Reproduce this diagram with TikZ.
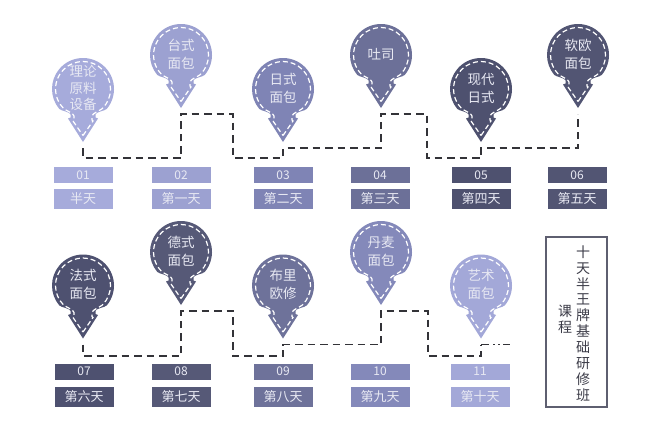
\documentclass[tikz,border=0pt]{standalone}
\usepackage{fontspec}
\newfontfamily\cjk{Noto Sans CJK SC}
\definecolor{dayA}{HTML}{A6ABDB}
\definecolor{dayB}{HTML}{9CA1D1}
\definecolor{dayC}{HTML}{7F84B5}
\definecolor{dayD}{HTML}{6C7098}
\definecolor{dayE}{HTML}{4E516F}
\definecolor{dayF}{HTML}{525573}
\definecolor{dayG}{HTML}{4E5170}
\definecolor{dayH}{HTML}{565977}
\definecolor{dayI}{HTML}{6E729A}
\definecolor{dayJ}{HTML}{8489BA}
\definecolor{dayK}{HTML}{A3A8D8}
\definecolor{pinwhite}{HTML}{E8E9F3}
\definecolor{trailgray}{HTML}{333338}
\definecolor{panelgray}{HTML}{5E5F70}
\definecolor{panelink}{HTML}{3C3C48}

\begin{document}
\begin{tikzpicture}[x=1pt,y=-1pt,
    numbox/.style={minimum width=59pt,minimum height=16pt,inner sep=0pt,text=pinwhite,font=\cjk\fontsize{12}{12}\selectfont},
    daybox/.style={minimum width=59pt,minimum height=20pt,inner sep=0pt,text=pinwhite,font=\cjk\fontsize{13}{13}\selectfont},
    pintext/.style={align=center,inner sep=0pt,text=pinwhite,font=\cjk\fontsize{13.5}{18}\selectfont},
    paneltext/.style={align=center,inner sep=0pt,text=panelink,font=\cjk\fontsize{14}{15.9}\selectfont},
    trail/.style={draw=trailgray,line width=1.5pt,dash pattern=on 7.5pt off 5pt},
    pics/pin/.style 2 args={code={
        \fill[#1] (0,53) -- (15,29.5) -- (12.5,28.5) -- (12.5,25.5) .. controls (12.5,23) and (22.1,21.8) .. (40:31)
            arc[start angle=40,end angle=-220,radius=31] .. controls (-22.1,21.8) and (-12.5,23) .. (-12.5,25.5)
            -- (-12.5,28.5) -- (-15,29.5) -- cycle;
        \draw[white,line width=1.2pt,dash pattern=on 5pt off 3pt] (0,46.5) -- (10,32) -- (9,31) -- (9,27)
            .. controls (9,24.5) and (17.6,21.2) .. (45:27.5)
            arc[start angle=45,end angle=-225,radius=27.5] .. controls (-17.6,21.2) and (-9,24.5) .. (-9,27)
            -- (-9,31) -- (-10,32) -- cycle;
        \node[pintext] (-txt) at (0,-1) {#2};
        \coordinate (-foot) at (0,59);
    }}]
    \fill[white] (0,0) rectangle (660,445);

    \pic (p1) at (83,89) {pin={dayA}{理论\\[-1.5pt]原料\\[-1.5pt]设备}};
    \pic (p2) at (181,55) {pin={dayB}{台式\\面包}};
    \pic (p3) at (283,89) {pin={dayC}{日式\\面包}};
    \pic (p4) at (381,55) {pin={dayD}{吐司}};
    \pic (p5) at (481,89) {pin={dayE}{现代\\日式}};
    \pic (p6) at (578,55) {pin={dayF}{软欧\\面包}};
    \pic (p7) at (83,285.5) {pin={dayG}{法式\\面包}};
    \pic (p8) at (181,252) {pin={dayH}{德式\\面包}};
    \pic (p9) at (283,285.5) {pin={dayI}{布里\\欧修}};
    \pic (p10) at (381,252) {pin={dayJ}{丹麦\\面包}};
    \pic (p11) at (481,285.5) {pin={dayK}{艺术\\面包}};

    \coordinate (drop1) at (233,158);
    \coordinate (drop2) at (427,158);
    \coordinate (drop3) at (233,356);
    \coordinate (drop4) at (428,356);
    \coordinate (tailend) at (511,344.5);
    \draw[trail] (p1-foot) |- (p2-foot |- drop1) -- (p2-foot) -| (drop1) -| (p3-foot) -| (p4-foot)
        -| (drop2) -| (p5-foot) -| (p6-foot);
    \draw[trail] (p7-foot) |- (p8-foot |- drop3) -- (p8-foot) -| (drop3) -| (p9-foot) -| (p10-foot)
        -| (drop4) -| (p11-foot);
    \draw[draw=trailgray,line width=1.5pt,dash pattern=on 8pt off 4pt on 1.5pt off 3.5pt on 1.5pt off 3.5pt on 7pt]
        (p11-foot) -- (tailend);

    \node[numbox,fill=dayA] (n1) at (83,175) {01};
    \node[daybox,fill=dayA] (d1) at (83,199) {半天};
    \node[numbox,fill=dayB] (n2) at (181,175) {02};
    \node[daybox,fill=dayB] (d2) at (181,199) {第一天};
    \node[numbox,fill=dayC] (n3) at (283,175) {03};
    \node[daybox,fill=dayC] (d3) at (283,199) {第二天};
    \node[numbox,fill=dayD] (n4) at (380,175) {04};
    \node[daybox,fill=dayD] (d4) at (380,199) {第三天};
    \node[numbox,fill=dayE] (n5) at (481,175) {05};
    \node[daybox,fill=dayE] (d5) at (481,199) {第四天};
    \node[numbox,fill=dayF] (n6) at (577,175) {06};
    \node[daybox,fill=dayF] (d6) at (577,199) {第五天};
    \node[numbox,fill=dayG] (n7) at (84,371.5) {07};
    \node[daybox,fill=dayG] (d7) at (84,396.5) {第六天};
    \node[numbox,fill=dayH] (n8) at (181,371.5) {08};
    \node[daybox,fill=dayH] (d8) at (181,396.5) {第七天};
    \node[numbox,fill=dayI] (n9) at (283,371.5) {09};
    \node[daybox,fill=dayI] (d9) at (283,396.5) {第八天};
    \node[numbox,fill=dayJ] (n10) at (380,371.5) {10};
    \node[daybox,fill=dayJ] (d10) at (380,396.5) {第九天};
    \node[numbox,fill=dayK] (n11) at (480,371.5) {11};
    \node[daybox,fill=dayK] (d11) at (480,396.5) {第十天};

    \node[draw=panelgray,line width=1.2pt,minimum width=61pt,minimum height=170pt,inner sep=0pt] (panel) at (576.5,322) {};
    \node[paneltext] (title) at (583,323.5) {十\\天\\半\\王\\牌\\基\\础\\研\\修\\班};
    \node[paneltext] (sub) at (565,319) {课\\程};
\end{tikzpicture}
\end{document}
